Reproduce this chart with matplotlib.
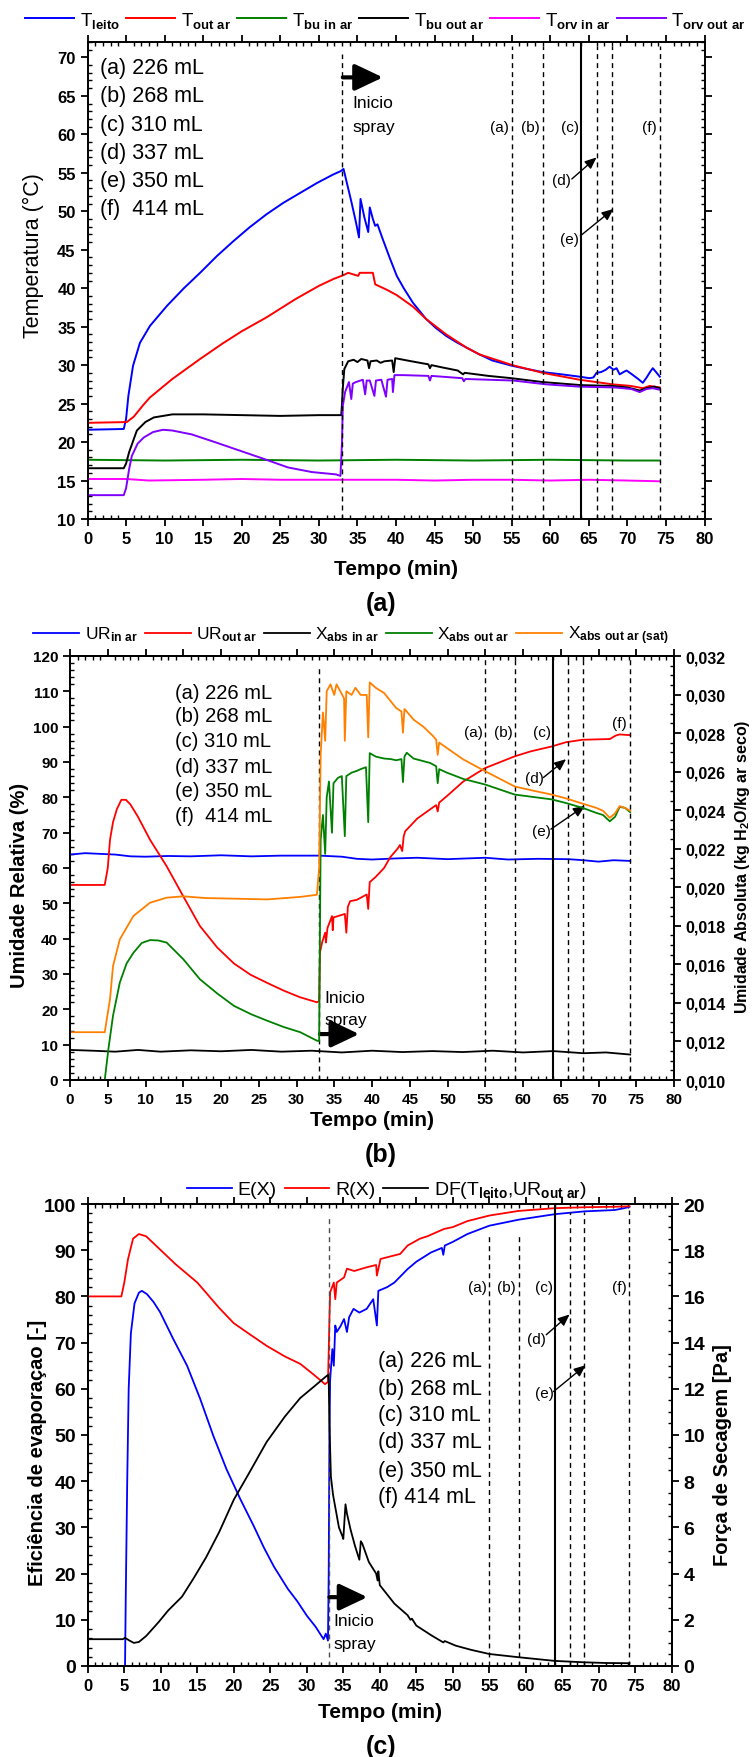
import numpy as np
import matplotlib.pyplot as plt
from matplotlib.ticker import MultipleLocator, FuncFormatter

plt.rcParams['font.family'] = ['Liberation Sans', 'DejaVu Sans']
plt.rcParams['font.weight'] = 'bold'
plt.rcParams['mathtext.fontset'] = 'custom'
plt.rcParams['mathtext.rm'] = 'Liberation Sans'
plt.rcParams['mathtext.bf'] = 'Liberation Sans:bold'
plt.rcParams['mathtext.it'] = 'Liberation Sans:italic'

# ---------------- data (a) : temperaturas ----------------
leito = [(0, 21.6), (4.7, 21.7), (5.0, 23.0), (5.3, 26.0), (5.9, 29.9), (6.8, 32.9), (8.1, 35.1),
         (10.3, 37.7), (12.5, 40.0), (14.6, 42.0), (16.8, 44.2), (18.9, 46.1), (21.0, 47.9),
         (23.2, 49.6), (25.4, 51.1), (27.6, 52.4), (29.8, 53.7), (31.9, 54.8), (32.8, 55.2),
         (33.2, 55.5), (33.6, 53.8), (34.2, 51.3), (34.8, 48.6), (35.2, 46.6), (35.4, 51.6),
         (35.9, 49.2), (36.4, 47.3), (36.6, 50.5), (37.0, 49.0), (37.3, 48.1), (37.6, 48.3),
         (38.2, 46.6), (39.2, 43.9), (40.1, 41.6), (41.0, 40.0), (42.2, 38.1), (43.9, 36.0),
         (45.2, 34.8), (46.5, 33.8), (47.8, 33.0), (49.1, 32.3), (50.8, 31.4), (52.5, 30.6),
         (55.1, 29.9), (57.0, 29.5), (59.0, 29.1), (61.5, 28.8), (63.8, 28.5), (65.1, 28.3),
         (65.6, 28.4), (66.0, 29.0), (66.6, 29.1), (67.2, 29.4), (67.7, 29.8), (68.2, 29.4),
         (68.6, 29.6), (69.0, 28.8), (69.5, 29.1), (69.9, 29.3), (70.6, 28.8), (71.4, 28.2),
         (72.0, 27.7), (72.5, 28.4), (73.0, 29.2), (73.3, 29.6), (73.8, 29.0), (74.2, 28.5)]
t_out = [(0, 22.5), (5.1, 22.6), (6.0, 23.3), (7.3, 24.9), (8.1, 25.8), (11.0, 28.2), (14.6, 30.8),
         (17.5, 32.8), (20.0, 34.4), (23.2, 36.2), (27.0, 38.6), (30.0, 40.3), (31.9, 41.2),
         (33.2, 41.7), (33.8, 42.0), (35.1, 41.6), (35.3, 42.0), (36.6, 42.0), (37.0, 42.0),
         (37.3, 40.5), (38.8, 39.8), (40.1, 39.1), (42.2, 37.6), (43.9, 36.0), (46.5, 34.0),
         (49.1, 32.3), (50.8, 31.4), (55.1, 30.0), (59.0, 29.0), (63.8, 28.1), (68.1, 27.5),
         (70.4, 27.3), (71.5, 27.1), (72.0, 27.0), (72.9, 27.3), (74.2, 27.1)]
bu_in = [(0, 17.7), (10, 17.6), (20, 17.7), (30, 17.6), (40, 17.7), (50, 17.6), (60, 17.7),
         (70, 17.6), (74.2, 17.6)]
bu_out = [(0, 16.6), (4.7, 16.6), (5.0, 17.2), (5.4, 18.7), (6.4, 21.5), (7.5, 22.6), (8.6, 23.2),
          (11.0, 23.6), (15, 23.6), (20, 23.5), (25, 23.4), (30, 23.5), (32.9, 23.5), (33.0, 25.0),
          (33.1, 27.0), (33.3, 29.5), (33.8, 30.5), (34.5, 30.7), (35.0, 30.4), (35.5, 30.8),
          (36.3, 30.6), (36.5, 29.6), (36.7, 30.5), (37.5, 30.6), (38.0, 30.3), (38.5, 30.5),
          (39.5, 30.6), (39.7, 29.1), (39.9, 30.9), (42.0, 30.5), (44.2, 30.1), (44.4, 29.6),
          (44.6, 30.0), (46.0, 29.7), (48.0, 29.3), (48.7, 28.8), (48.9, 29.0), (52.0, 28.6),
          (55.0, 28.3), (59.0, 27.8), (64.0, 27.4), (68.0, 27.3), (70.0, 27.1), (71.6, 26.7),
          (72.5, 27.0), (73.5, 27.2), (74.2, 27.0)]
orv_in = [(0, 15.2), (5, 15.2), (8, 15.0), (15, 15.1), (20, 15.2), (25, 15.1), (33, 15.1),
          (40, 15.1), (45, 15.0), (50, 15.1), (55, 15.1), (60, 15.0), (65, 15.1), (70, 15.0),
          (74.2, 14.9)]
orv_out = [(0, 13.1), (4.7, 13.1), (5.0, 14.0), (5.4, 16.5), (5.75, 18.2), (6.5, 19.8), (7.3, 20.6),
           (8.5, 21.3), (9.8, 21.6), (11.0, 21.5), (13.5, 21.0), (16.5, 20.0), (19.7, 18.9),
           (22.9, 17.8), (26.0, 16.7), (29.1, 16.1), (32.2, 15.8), (32.8, 15.6), (33.0, 20.0),
           (33.1, 24.7), (33.4, 26.5), (33.9, 27.8), (34.2, 25.6), (34.4, 27.6), (34.8, 27.8),
           (35.7, 28.1), (36.0, 26.2), (36.2, 28.0), (36.6, 28.0), (37.2, 26.0), (37.4, 28.0),
           (38.1, 28.1), (38.7, 25.9), (38.9, 28.1), (39.5, 28.2), (39.6, 26.5), (39.8, 28.7),
           (41, 28.7), (44.2, 28.6), (44.4, 28.0), (44.6, 28.6), (48.6, 28.3), (48.8, 27.9),
           (49.0, 28.2), (52, 28.1), (55.2, 28.0), (59.5, 27.5), (63.8, 27.2), (68.3, 27.1),
           (70.5, 26.9), (71.6, 26.5), (72.5, 26.9), (73.3, 27.0), (74.2, 26.8)]

# ---------------- data (b) : umidade ----------------
ur_in = [(0, 63.8), (2, 64.2), (4, 64.0), (6, 63.8), (8, 63.3), (10, 63.2), (13, 63.4), (16, 63.3),
         (20, 63.6), (24, 63.3), (28, 63.5), (33, 63.5), (36, 63.2), (38, 62.6), (40, 62.4),
         (43, 62.7), (46, 62.9), (50, 62.5), (55, 62.9), (58, 62.4), (62, 62.6), (66, 62.5),
         (68, 62.2), (70, 61.8), (72, 62.2), (74.2, 62.0)]
ur_out = [(0, 55.2), (4.6, 55.2), (5.0, 60), (5.3, 68), (5.7, 73), (6.2, 76.6), (6.8, 79.3),
          (7.4, 79.3), (8.0, 78), (9.0, 74.5), (10.6, 68), (12.8, 60.5), (15.0, 52), (17.2, 43.6),
          (19.5, 37.5), (21.7, 33), (23.9, 29.8), (26.1, 27.5), (28.3, 25.3), (30.5, 23.4),
          (32.7, 22), (33.0, 22.3), (33.1, 36), (33.4, 39), (33.8, 41.7), (33.9, 38.9), (34.1, 43),
          (34.7, 46.4), (34.8, 42.4), (34.9, 46), (36.4, 47), (36.6, 41.7), (36.8, 49), (37.1, 50.6),
          (38, 51), (39.3, 52.5), (39.5, 48.4), (39.7, 56), (40.5, 57.5), (41.6, 60), (42.4, 63),
          (43.4, 65.5), (43.7, 66.5), (44.0, 64.8), (44.2, 69), (44.4, 70.4), (46, 74), (47.7, 76.6),
          (48.5, 77.8), (48.7, 76), (48.9, 78.5), (50, 80.5), (52.1, 84.5), (55, 88.3), (58.9, 91.6),
          (61, 93), (63.8, 94.4), (65.7, 95.6), (67.9, 96.3), (71.5, 96.5), (72.3, 97.5),
          (72.8, 97.8), (74.2, 97.6)]
x_in = [(0, 0.01156), (3, 0.01152), (6, 0.01147), (9, 0.01156), (12, 0.01147), (16, 0.01154),
        (20, 0.01149), (24, 0.01156), (28, 0.01147), (32, 0.01152), (36, 0.01143), (40, 0.01152),
        (44, 0.01145), (48, 0.01150), (52, 0.01145), (56, 0.01152), (60, 0.01143), (64, 0.01150),
        (68, 0.01139), (71, 0.01143), (74.2, 0.01132)]
x_out = [(0, 0.0100), (4.6, 0.0100), (5.1, 0.01165), (5.7, 0.01334), (6.6, 0.01506), (7.5, 0.01605),
         (8.4, 0.01660), (9.5, 0.01711), (10.6, 0.01726), (11.7, 0.01724), (12.8, 0.01713),
         (15, 0.01627), (17.2, 0.01523), (19.5, 0.01449), (21.7, 0.01385), (24, 0.01341),
         (26.1, 0.01308), (28.3, 0.01275), (30.5, 0.01248), (32.7, 0.01204), (33.0, 0.01202),
         (33.1, 0.01733), (33.2, 0.02247), (33.5, 0.02375), (33.8, 0.02173), (34.0, 0.02467),
         (34.3, 0.02549), (34.7, 0.02283), (34.9, 0.02540), (35.5, 0.02568), (36.0, 0.02577),
         (36.4, 0.02265), (36.6, 0.02577), (37.3, 0.02595), (38.0, 0.02604), (38.5, 0.02613),
         (39.2, 0.02623), (39.5, 0.02338), (39.7, 0.02696), (40.5, 0.02678), (41.6, 0.02668),
         (42.5, 0.02665), (43.2, 0.02659), (43.9, 0.02665), (44.1, 0.02546), (44.3, 0.02678),
         (44.6, 0.02698), (45.5, 0.02668), (47.7, 0.02645), (48.5, 0.02628), (48.7, 0.02540),
         (48.9, 0.02613), (49.9, 0.02595), (52.1, 0.02562), (55, 0.02533), (58.9, 0.02481),
         (63.8, 0.02456), (65.7, 0.02437), (67.9, 0.02412), (69.7, 0.02386), (70.6, 0.02375),
         (71.5, 0.02342), (72.2, 0.02366), (72.8, 0.02417), (73.5, 0.02412), (74.2, 0.02390)]
x_sat = [(0, 0.01248), (4.6, 0.01248), (5.3, 0.01420), (5.7, 0.01592), (6.6, 0.01730), (8.4, 0.01851),
         (10.6, 0.01920), (12.8, 0.01946), (15, 0.01953), (18, 0.01944), (21.7, 0.01941),
         (26.1, 0.01937), (30.5, 0.01950), (32.7, 0.01961), (33.0, 0.02100), (33.2, 0.02687),
         (33.5, 0.02907), (33.8, 0.02760), (34.0, 0.03017), (34.5, 0.03053), (35.0, 0.02998),
         (35.3, 0.03053), (35.8, 0.03017), (36.3, 0.02980), (36.4, 0.02760), (36.6, 0.03017),
         (37.3, 0.02998), (37.8, 0.03035), (38.5, 0.02998), (39.3, 0.02998), (39.5, 0.02778),
         (39.7, 0.03063), (40.5, 0.03035), (41.6, 0.03008), (43.2, 0.02930), (43.9, 0.02912),
         (44.1, 0.02802), (44.3, 0.02925), (44.6, 0.02912), (45.5, 0.02870), (46.8, 0.02833),
         (48.0, 0.02788), (48.5, 0.02766), (48.7, 0.02687), (48.9, 0.02751), (49.9, 0.02723),
         (52.1, 0.02663), (55, 0.02602), (58.9, 0.02523), (61.5, 0.02500), (63.8, 0.02481),
         (65.7, 0.02461), (67.9, 0.02434), (69.7, 0.02412), (70.6, 0.02397), (71.5, 0.02360),
         (72.2, 0.02384), (72.8, 0.02421), (73.5, 0.02412), (74.2, 0.02397)]

# ---------------- data (c) : eficiencia / forca ----------------
e_x = [(5.1, 0), (5.2, 15), (5.4, 40), (5.6, 60), (5.9, 72), (6.4, 78.5), (7.0, 80.8), (7.4, 81.2),
       (8.1, 80.5), (9.0, 78.8), (9.9, 76.6), (11.7, 70.8), (13.6, 65), (14.5, 61.4), (15.4, 57.8),
       (17.2, 49.8), (19.0, 42.6), (20.9, 36.1), (22.7, 30.4), (24.1, 25.7), (25.5, 21.5),
       (27.4, 16.7), (28.7, 14), (30.0, 10.9), (31.2, 8.5), (32.3, 5.8), (32.6, 7), (32.9, 5.5),
       (33.0, 20), (33.1, 50), (33.2, 62), (33.5, 68.6), (33.7, 65), (33.9, 73.7), (34.1, 72.3),
       (34.6, 73.5), (35.1, 75.1), (35.5, 72.3), (35.8, 75.5), (36.4, 77.3), (37.2, 76.5),
       (38.2, 77.3), (39.1, 79.4), (39.6, 73.7), (39.8, 81.2), (41, 82), (42, 83), (43.8, 85.9),
       (45, 87.5), (47, 89.5), (48.5, 90.5), (48.7, 89), (48.9, 91), (50, 91.8), (52, 93.5),
       (55, 95.3), (59, 96.6), (64, 97.8), (68, 98.4), (72.2, 98.7), (73.5, 99.1), (74.2, 99.4)]
r_x = [(0, 80), (4.6, 80), (5.0, 83), (5.5, 88), (6.2, 92.5), (7.0, 93.5), (8.0, 93), (10, 90),
       (12, 87), (15, 83), (18, 77.5), (20, 74.2), (22, 72), (24.5, 69.3), (27, 67), (29.1, 65.4),
       (31, 63), (32.5, 61), (32.9, 61.5), (33.0, 68), (33.1, 75.1), (33.2, 80.9), (33.7, 83),
       (33.9, 79.4), (34.1, 83), (35.1, 84.1), (35.5, 86), (36.5, 85.5), (38.2, 86.3), (39.5, 86.8),
       (39.6, 84.5), (40.1, 88.1), (42.8, 89.2), (43.8, 91), (45.5, 92.5), (46.5, 93), (48.8, 94.6),
       (50, 95), (52, 96.3), (55, 97.5), (59, 98.5), (64, 99.1), (68, 99.3), (72, 99.4), (74.2, 99.5)]
df = [(0, 1.16), (4.8, 1.16), (5.1, 1.22), (5.6, 1.12), (6.3, 1.0), (7.0, 1.04), (8.0, 1.3),
      (9.7, 1.9), (11.0, 2.4), (12.9, 3.0), (14.5, 3.8), (16.2, 4.7), (18.0, 5.8), (20.0, 7.2),
      (22.0, 8.3), (24.5, 9.7), (27.0, 10.8), (29.1, 11.6), (31.0, 12.1), (32.5, 12.5), (32.9, 12.6),
      (33.0, 12.4), (33.1, 10.5), (33.3, 8.2), (33.6, 7.4), (34.0, 6.7), (34.4, 6.0), (34.9, 5.6),
      (35.0, 5.5), (35.3, 7.0), (35.5, 6.6), (36.0, 5.9), (36.6, 5.2), (37.2, 4.6), (37.4, 5.4),
      (37.6, 5.3), (38.5, 4.5), (39.5, 4.0), (39.7, 3.7), (39.8, 4.1), (40.0, 3.5), (41.0, 3.1),
      (42.0, 2.7), (43.8, 2.2), (44.2, 2.0), (44.4, 2.05), (45.0, 1.75), (47.1, 1.32), (48.7, 1.02),
      (48.9, 1.08), (50.4, 0.88), (52.5, 0.7), (55.0, 0.52), (59.0, 0.38), (64.0, 0.22),
      (68.0, 0.16), (71.0, 0.13), (74.2, 0.12)]

vol_labels = ['(a) 226 mL', '(b) 268 mL', '(c) 310 mL', '(d) 337 mL', '(e) 350 mL', '(f)  414 mL']
vol_labels_c = ['(a) 226 mL', '(b) 268 mL', '(c) 310 mL', '(d) 337 mL', '(e) 350 mL', '(f) 414 mL']
t_dashed = [55, 59, 66, 68, 74.2]
t_solid = 64
t_spray = 33

W, H = 752, 1758
fig = plt.figure(figsize=(W / 100, H / 100), dpi=100)


def box(l, t, r, b):
    return fig.add_axes([l / W, 1 - b / H, (r - l) / W, (b - t) / H])


def ticks(ax, xs=12, ys=12):
    for s in ax.spines.values():
        s.set_linewidth(1.4)
    ax.set_xlim(0, 80)
    ax.xaxis.set_major_locator(MultipleLocator(5))
    ax.xaxis.set_minor_locator(MultipleLocator(1))
    ax.tick_params(which='major', direction='out', length=5, width=1.3, top=True)
    ax.tick_params(which='minor', direction='in', length=3, width=1.0, top=True)
    ax.tick_params(axis='x', labelsize=xs)
    ax.tick_params(axis='y', labelsize=ys)


def xy(p):
    a = np.array(p)
    return a[:, 0], a[:, 1]


def vlines(ax, top33, tops):
    ax.axvline(t_spray, ymax=top33, color='k', lw=1, ls=(0, (3.6, 2.9)))
    for t, tp in zip(t_dashed, tops):
        ax.axvline(t, ymax=tp, color='k', lw=1, ls=(0, (3.6, 2.9)))
    ax.axvline(t_solid, color='k', lw=1.5)


def marks(ax, ya, yf, yd, de, ye, ee, fs=11):
    for lab, t, y in zip(['(a)', '(b)', '(c)', '(f)'], [53.4, 57.4, 62.5, 72.8], [ya, ya, ya, yf]):
        ax.text(t, y, lab, ha='center', va='center', fontsize=fs, weight='normal')
    ax.text(61.5, yd, '(d)', ha='center', va='center', fontsize=fs, weight='normal')
    ax.text(62.5, ye, '(e)', ha='center', va='center', fontsize=fs, weight='normal')
    kw = dict(arrowstyle='-|>,head_length=0.7,head_width=0.3', color='k', lw=1,
              mutation_scale=10, shrinkA=0, shrinkB=0)
    ax.annotate('', xy=de[1], xytext=de[0], arrowprops=kw)
    ax.annotate('', xy=ee[1], xytext=ee[0], arrowprops=kw)


def spray(ax, y_arrow, y1, y2, x0):
    ax.annotate('', xy=(38.3, y_arrow), xytext=(33.1, y_arrow),
                arrowprops=dict(arrowstyle='-|>,head_length=0.95,head_width=0.45', lw=3,
                                color='k', mutation_scale=18, shrinkA=0, shrinkB=0))
    ax.text(x0, y1, 'Inicio', fontsize=12.5, weight='normal', va='center')
    ax.text(x0, y2, 'spray', fontsize=12.5, weight='normal', va='center')


# ================= (a) =================
ax = box(87.5, 43, 704.5, 520)
series_a = [(leito, '#0000ff', r'T$_{\mathbf{leito}}$'),
            (t_out, '#ff0000', r'T$_{\mathbf{out\ ar}}$'),
            (bu_in, '#008000', r'T$_{\mathbf{bu\ in\ ar}}$'),
            (bu_out, '#000000', r'T$_{\mathbf{bu\ out\ ar}}$'),
            (orv_in, '#ff00ff', r'T$_{\mathbf{orv\ in\ ar}}$'),
            (orv_out, '#8000ff', r'T$_{\mathbf{orv\ out\ ar}}$')]
for pts, c, lab in series_a:
    ax.plot(*xy(pts), color=c, lw=1.4, label=lab)
ticks(ax)
ax.set_ylim(10, 72)
ax.yaxis.set_major_locator(MultipleLocator(5))
ax.yaxis.set_minor_locator(MultipleLocator(1))
ax.tick_params(which='both', right=True)
vlines(ax, 0.975, [0.992] * 5)
for i, s in enumerate(vol_labels):
    ax.text(1.6, 68.7 - 3.68 * i, s, fontsize=15.5, weight='normal', va='center')
marks(ax, 61.0, 61.0, 54.0, [(62.8, 54.2), (66.0, 57.0)], 46.4, [(63.9, 46.8), (68.2, 50.3)])
spray(ax, 67.4, 64.2, 61.0, 34.3)
fig.legend(handles=ax.get_lines()[:6], loc='center', bbox_to_anchor=(385.5 / W, 1 - 21 / H),
           ncol=6, frameon=False, prop={'weight': 'normal', 'size': 13.5},
           handlelength=2.6, handletextpad=0.3, columnspacing=0.35, borderpad=0)
fig.text(396 / W, 1 - 570 / H, 'Tempo (min)', ha='center', va='center', fontsize=15)
fig.text(381 / W, 1 - 604 / H, '(a)', ha='center', va='center', fontsize=18)
fig.text(33 / W, 1 - 256 / H, 'Temperatura (°C)', rotation=90, ha='center', va='center',
         fontsize=15.5, weight='normal')

# ================= (b) =================
ax = box(70, 657, 674, 1081)
ax2 = ax.twinx()
l1, = ax.plot(*xy(ur_in), color='#0000ff', lw=1.3, label=r'UR$_{\mathbf{in\ ar}}$')
l2, = ax.plot(*xy(ur_out), color='#ff0000', lw=1.3, label=r'UR$_{\mathbf{out\ ar}}$')
l3, = ax2.plot(*xy(x_in), color='#000000', lw=1.3, label=r'X$_{\mathbf{abs\ in\ ar}}$')
l4, = ax2.plot(*xy(x_out), color='#008000', lw=1.3, label=r'X$_{\mathbf{abs\ out\ ar}}$')
l5, = ax2.plot(*xy(x_sat), color='#ff8000', lw=1.3, label=r'X$_{\mathbf{abs\ out\ ar\ (sat)}}$')
ticks(ax, 11, 11)
ax.set_ylim(0, 120)
ax.yaxis.set_major_locator(MultipleLocator(10))
ax.yaxis.set_minor_locator(MultipleLocator(2))
ax2.set_ylim(0.010, 0.032)
ax2.yaxis.set_major_locator(MultipleLocator(0.002))
ax2.yaxis.set_minor_locator(MultipleLocator(0.0005))
ax2.yaxis.set_major_formatter(FuncFormatter(lambda v, p: f'{v:.3f}'.replace('.', ',')))
ax2.tick_params(which='major', direction='out', length=5, width=1.3, labelsize=11.5)
ax2.tick_params(which='minor', direction='in', length=3, width=1.0)
for s in ax2.spines.values():
    s.set_linewidth(1.4)
vlines(ax, 0.976, [0.993] * 5)
yb = [109.6, 103.1, 96.0, 88.8, 81.9, 74.9]
for s, y in zip(vol_labels, yb):
    ax.text(13.9, y, s, fontsize=14.5, weight='normal', va='center')
marks(ax, 98.6, 101.0, 85.6, [(62.7, 85.6), (65.7, 90.8)], 70.5, [(63.7, 71.0), (68.2, 77.6)])
spray(ax, 13.0, 23.4, 17.2, 33.7)
fig.legend(handles=[l1, l2, l3, l4, l5], loc='center', bbox_to_anchor=(351 / W, 1 - 636 / H),
           ncol=5, frameon=False, prop={'weight': 'normal', 'size': 12.5},
           handlelength=2.65, handletextpad=0.3, columnspacing=0.4, borderpad=0)
fig.text(372 / W, 1 - 1121 / H, 'Tempo (min)', ha='center', va='center', fontsize=15)
fig.text(381 / W, 1 - 1155 / H, '(b)', ha='center', va='center', fontsize=18)
fig.text(19.5 / W, 1 - 885 / H, 'Umidade Relativa (%)', rotation=90, ha='center', va='center',
         fontsize=14.5)
fig.text(743 / W, 1 - 867 / H, r'Umidade Absoluta (kg H$_{\mathbf{2}}$O/kg ar seco)', rotation=90,
         ha='center', va='center', fontsize=11.5)

# ================= (c) =================
ax = box(87.8, 1205, 671.8, 1667)
ax2 = ax.twinx()
m1, = ax.plot(*xy(e_x), color='#0000ff', lw=1.3, label='E(X)')
m2, = ax.plot(*xy(r_x), color='#ff0000', lw=1.3, label='R(X)')
m3, = ax2.plot(*xy(df), color='#000000', lw=1.3,
               label=r'DF(T$_{\mathbf{leito}}$,UR$_{\mathbf{out\ ar}}$)')
ticks(ax, 12, 14)
ax.set_ylim(0, 100)
ax.yaxis.set_major_locator(MultipleLocator(10))
ax.yaxis.set_minor_locator(MultipleLocator(2))
ax2.set_ylim(0, 20)
ax2.yaxis.set_major_locator(MultipleLocator(2))
ax2.yaxis.set_minor_locator(MultipleLocator(0.5))
ax2.tick_params(which='major', direction='out', length=5, width=1.3, labelsize=14)
ax2.tick_params(which='minor', direction='in', length=3, width=1.0)
for s in ax2.spines.values():
    s.set_linewidth(1.4)
ax.axvline(t_spray, ymax=0.972, color='0.3', lw=1, ls=(0, (3.6, 2.9)))
for t, tp in zip(t_dashed, [0.935, 0.935, 0.983, 0.983, 0.986]):
    ax.axvline(t, ymax=tp, color='k', lw=1, ls=(0, (3.6, 2.9)))
ax.axvline(t_solid, color='k', lw=1.5)
yc = [66.2, 60.0, 54.4, 48.5, 42.4, 36.6]
for s, y in zip(vol_labels_c, yc):
    ax.text(39.8, y, s, fontsize=15.5, weight='normal', va='center')
marks(ax, 82.0, 82.0, 70.8, [(62.8, 71.7), (66.0, 76.1)], 59.1, [(63.8, 59.4), (68.2, 65.1)])
spray(ax, 14.9, 9.8, 4.8, 33.6)
fig.legend(handles=[m1, m2, m3], loc='center', bbox_to_anchor=(387 / W, 1 - 1191 / H),
           ncol=3, frameon=False, prop={'weight': 'normal', 'size': 14},
           handlelength=2.3, handletextpad=0.3, columnspacing=0.4, borderpad=0)
fig.text(379.8 / W, 1 - 1713 / H, 'Tempo (min)', ha='center', va='center', fontsize=15)
fig.text(381 / W, 1 - 1747 / H, '(c)', ha='center', va='center', fontsize=18)
fig.text(38 / W, 1 - 1453 / H, 'Eficiência de evaporaçao [-]', rotation=90, ha='center',
         va='center', fontsize=14.5)
fig.text(723 / W, 1 - 1455 / H, 'Força de Secagem [Pa]', rotation=90, ha='center', va='center',
         fontsize=14.5)

fig.savefig('out.png', dpi=100)
